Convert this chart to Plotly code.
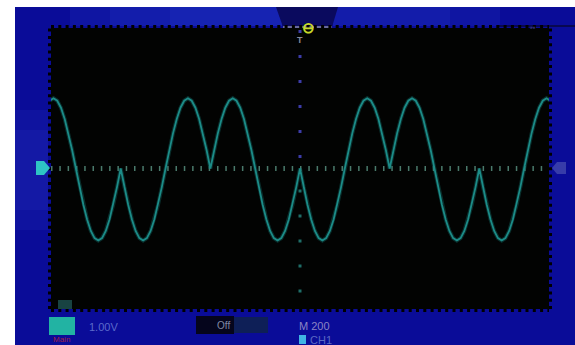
import plotly.graph_objects as go

# CH1 samples: 1 V/div vertical, 200 us/div horizontal (12 div wide screen)
sample_period_us = 18
t_start_us = -1296
ch1_volts = [
    0, 0.52, 1.00, 1.41, 1.73, 1.93, 2.00, 1.93, 1.73, 1.41, 1.00, 0.52,
    0, -0.53, -1.03, -1.45, -1.78, -1.98, -2.05, -1.98, -1.78, -1.45, -1.03, -0.53,
    0, -0.53, -1.03, -1.45, -1.78, -1.98, -2.05, -1.98, -1.78, -1.45, -1.03, -0.53,
    0, 0.52, 1.00, 1.41, 1.73, 1.93, 2.00, 1.93, 1.73, 1.41, 1.00, 0.52,
    0, 0.52, 1.00, 1.41, 1.73, 1.93, 2.00, 1.93, 1.73, 1.41, 1.00, 0.52,
    0, -0.53, -1.03, -1.45, -1.78, -1.98, -2.05, -1.98, -1.78, -1.45, -1.03, -0.53,
    0, -0.53, -1.03, -1.45, -1.78, -1.98, -2.05, -1.98, -1.78, -1.45, -1.03, -0.53,
    0, 0.52, 1.00, 1.41, 1.73, 1.93, 2.00, 1.93, 1.73, 1.41, 1.00, 0.52,
    0, 0.52, 1.00, 1.41, 1.73, 1.93, 2.00, 1.93, 1.73, 1.41, 1.00, 0.52,
    0, -0.53, -1.03, -1.45, -1.78, -1.98, -2.05, -1.98, -1.78, -1.45, -1.03, -0.53,
    0, -0.53, -1.03, -1.45, -1.78, -1.98, -2.05, -1.98, -1.78, -1.45, -1.03, -0.53,
    0, 0.52, 1.00, 1.41, 1.73, 1.93, 2.00, 1.93, 1.73, 1.41, 1.00, 0.52,
    0,
]
ch1_time_us = [t_start_us + i * sample_period_us for i in range(len(ch1_volts))]

volts_per_div = 1.0
us_per_div = 200
h_divs = 12
v_divs = 8
scale_label = "1.00V"
time_label = "M 200"
coupling_label = "Off"
channel_label = "CH1"
mode_label = "Main"

# ---------------- layout geometry (pixels) ----------------
W, H = 575, 345
L, R, T, B = 51, 549, 28, 309


def fx(px):
    return (px - L) / (R - L)


def fy(py):
    return (B - py) / (B - T)


BLUE = "#0a0c98"
TRACE = "#1c8c88"

fig = go.Figure()
fig.add_trace(go.Scatter(x=ch1_time_us, y=ch1_volts, mode="lines",
                         line=dict(color="rgba(28,140,136,0.30)", width=4),
                         hoverinfo="skip", showlegend=False))
fig.add_trace(go.Scatter(x=ch1_time_us, y=ch1_volts, mode="lines",
                         line=dict(color=TRACE, width=1.8),
                         showlegend=False, name=channel_label))

xr = h_divs / 2 * us_per_div
yr = v_divs / 2 * volts_per_div

shapes = []
# white photo border (left and top)
shapes.append(dict(type="rect", xref="paper", yref="paper", x0=fx(-5), x1=fx(15),
                   y0=fy(350), y1=fy(-5), fillcolor="white", line_width=0, layer="below"))
shapes.append(dict(type="rect", xref="paper", yref="paper", x0=fx(-5), x1=fx(580),
                   y0=fy(7), y1=fy(-5), fillcolor="white", line_width=0, layer="below"))
# subtle lighter blue top band (soft steps)
for x0, x1, op in [(70, 282, 0.14), (110, 282, 0.14), (170, 282, 0.12),
                   (333, 500, 0.14), (333, 450, 0.12)]:
    shapes.append(dict(type="rect", xref="paper", yref="paper", x0=fx(x0), x1=fx(x1),
                       y0=fy(26), y1=fy(7), fillcolor=f"rgba(50,80,230,{op})",
                       line_width=0, layer="below"))
# darker tab behind the run icon
shapes.append(dict(type="path", xref="paper", yref="paper",
                   path=f"M {fx(276)},{fy(7)} L {fx(338)},{fy(7)} L {fx(332)},{fy(27)} L {fx(283)},{fy(27)} Z",
                   fillcolor="#0a0a5e", line_width=0, layer="below"))
shapes.append(dict(type="line", xref="paper", yref="paper", x0=fx(283), x1=fx(332),
                   y0=fy(27), y1=fy(27), line=dict(color="#8a8aa8", width=1.5)))
# top-right rule
shapes.append(dict(type="line", xref="paper", yref="paper", x0=fx(498), x1=fx(575),
                   y0=fy(26), y1=fy(26), line=dict(color="#080850", width=2)))
# slightly lighter left band around CH1 marker
for y0, y1, op in [(110, 230, 0.12), (130, 210, 0.12)]:
    shapes.append(dict(type="rect", xref="paper", yref="paper", x0=fx(15), x1=fx(48),
                       y0=fy(y1), y1=fy(y0), fillcolor=f"rgba(60,70,210,{op})",
                       line_width=0, layer="below"))
# border teeth (graticule ticks on screen edge)
tooth = "3px,4.3px"
shapes.append(dict(type="line", xref="paper", yref="paper", x0=0, x1=1, y0=fy(26.5), y1=fy(26.5),
                   line=dict(color="black", width=3, dash=tooth)))
shapes.append(dict(type="line", xref="paper", yref="paper", x0=0, x1=1, y0=fy(310.5), y1=fy(310.5),
                   line=dict(color="black", width=3, dash=tooth)))
shapes.append(dict(type="line", xref="paper", yref="paper", x0=fx(49.5), x1=fx(49.5), y0=0, y1=1,
                   line=dict(color="black", width=3, dash=tooth)))
shapes.append(dict(type="line", xref="paper", yref="paper", x0=fx(550.5), x1=fx(550.5), y0=0, y1=1,
                   line=dict(color="black", width=3, dash=tooth)))
# centre graticule lines
shapes.append(dict(type="line", xref="x", yref="y", x0=-xr, x1=xr, y0=0, y1=0,
                   line=dict(color="#4a7a6c", width=5, dash="1.5px,6.8px"), layer="below"))
shapes.append(dict(type="line", xref="x", yref="y", x0=0, x1=0, y0=0.3, y1=yr,
                   line=dict(color="#3c3ca8", width=3, dash="3px,22px"), layer="below"))
shapes.append(dict(type="line", xref="x", yref="y", x0=0, x1=0, y0=-0.6, y1=-yr,
                   line=dict(color="#1f6e68", width=3, dash="3px,22px"), layer="below"))
# CH1 ground marker
shapes.append(dict(type="path", xref="paper", yref="paper",
                   path=f"M {fx(36)},{fy(161)} L {fx(44)},{fy(161)} L {fx(50)},{fy(168)} L {fx(44)},{fy(175)} L {fx(36)},{fy(175)} Z",
                   fillcolor="#2ec4c4", line_width=0))
# trigger level marker (right)
shapes.append(dict(type="path", xref="paper", yref="paper",
                   path=f"M {fx(552)},{fy(168)} L {fx(557)},{fy(162)} L {fx(566)},{fy(162)} L {fx(566)},{fy(174)} L {fx(557)},{fy(174)} Z",
                   fillcolor="rgba(110,120,190,0.45)", line_width=0))
# bottom status bar blocks
shapes.append(dict(type="rect", xref="paper", yref="paper", x0=fx(49), x1=fx(75), y0=fy(335), y1=fy(317),
                   fillcolor="#22b3a3", line_width=0))
shapes.append(dict(type="rect", xref="paper", yref="paper", x0=fx(196), x1=fx(234), y0=fy(334), y1=fy(316),
                   fillcolor="#05051c", line_width=0))
shapes.append(dict(type="rect", xref="paper", yref="paper", x0=fx(234), x1=fx(268), y0=fy(333), y1=fy(317),
                   fillcolor="rgba(15,40,60,0.7)", line_width=0))
shapes.append(dict(type="rect", xref="paper", yref="paper", x0=fx(299), x1=fx(306), y0=fy(344), y1=fy(335),
                   fillcolor="#40b4e4", line_width=0))
shapes.append(dict(type="rect", xref="paper", yref="paper", x0=fx(58), x1=fx(72), y0=fy(309), y1=fy(300),
                   fillcolor="rgba(40,110,110,0.6)", line_width=0))

annotations = [
    dict(x=fx(308), y=fy(17), text="<b>⊖</b>", font=dict(color="#c8d82a", size=15)),
    dict(x=fx(300), y=fy(33), text="<b>T</b>", font=dict(color="#8a8a9a", size=9)),
    dict(x=fx(538), y=fy(21), text="▪▪", font=dict(color="#303070", size=8)),
    dict(x=fx(87), y=fy(327), text=scale_label, xanchor="left", yanchor="middle",
         font=dict(color="#5a6acb", size=11)),
    dict(x=fx(215), y=fy(325), text=coupling_label, yanchor="middle",
         font=dict(color="#8088a4", size=10)),
    dict(x=fx(297), y=fy(326), text=time_label, xanchor="left", yanchor="middle",
         font=dict(color="#8a84c4", size=11)),
    dict(x=fx(308), y=fy(340), text=channel_label, xanchor="left", yanchor="middle",
         font=dict(color="#5a68c4", size=11)),
    dict(x=fx(51), y=fy(346), text=mode_label, xanchor="left", yanchor="bottom",
         font=dict(color="#a0204a", size=8)),
]
for a in annotations:
    a.update(xref="paper", yref="paper", showarrow=False)

fig.update_layout(
    width=W, height=H,
    margin=dict(l=L, r=W - R, t=T, b=H - B, pad=0),
    paper_bgcolor=BLUE,
    plot_bgcolor="#020302",
    font=dict(family="Liberation Sans, Arial, sans-serif"),
    xaxis=dict(range=[-xr, xr], showgrid=False, zeroline=False, showticklabels=False,
               ticks="", showline=False, fixedrange=True),
    yaxis=dict(range=[-yr, yr], showgrid=False, zeroline=False, showticklabels=False,
               ticks="", showline=False, fixedrange=True),
    shapes=shapes,
    annotations=annotations,
    showlegend=False,
)

fig.write_html("out.html", config={"displayModeBar": False},
               post_script="document.body.style.margin='0px';document.body.style.overflow='hidden';")
